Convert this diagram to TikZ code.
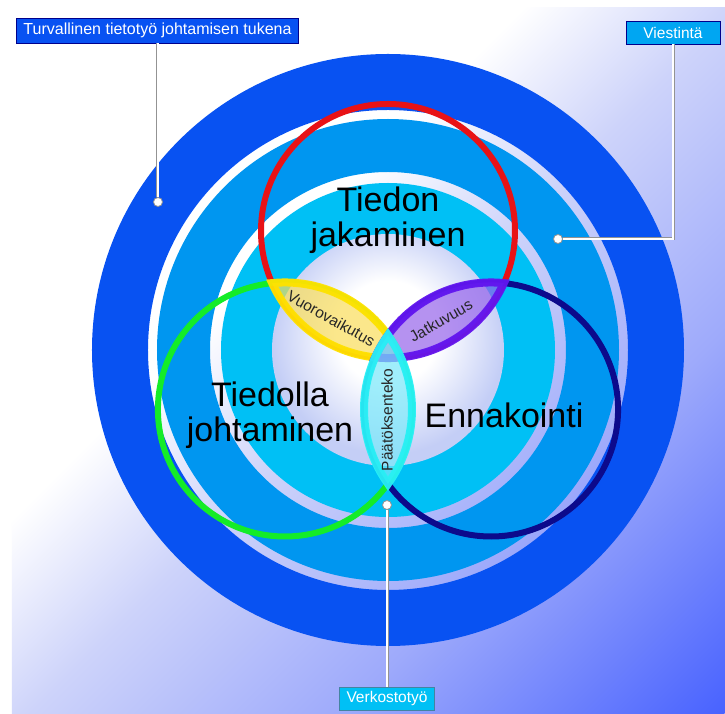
\documentclass[tikz,border=0pt]{standalone}
\usepackage{fontspec}
\setmainfont{Liberation Sans}

\definecolor{ringdark}{RGB}{8,82,242}
\definecolor{ringmid}{RGB}{0,150,240}
\definecolor{ringlight}{RGB}{0,192,245}
\definecolor{bglav}{RGB}{205,211,250}
\definecolor{bgmid}{RGB}{158,170,251}
\definecolor{bgblue}{RGB}{72,98,255}
\definecolor{spherelav}{RGB}{196,206,246}
\definecolor{vennred}{RGB}{232,18,22}
\definecolor{venngreen}{RGB}{20,236,40}
\definecolor{vennnavy}{RGB}{12,10,140}
\definecolor{lensyellow}{RGB}{255,226,0}
\definecolor{yellowfill}{RGB}{250,222,90}
\definecolor{lensviolet}{RGB}{98,22,240}
\definecolor{violetfill}{RGB}{150,100,235}
\definecolor{lenscyan}{RGB}{40,240,246}
\definecolor{cyanfill}{RGB}{120,232,250}

\pgfdeclarehorizontalshading{bgdiag}{100bp}{color(0bp)=(white); color(25bp)=(white); color(43bp)=(white); color(50.5bp)=(bglav); color(61.5bp)=(bgmid); color(75bp)=(bgblue); color(100bp)=(bgblue)}
\pgfdeclareradialshading{spherelight}{\pgfpoint{0bp}{5bp}}{color(0bp)=(white); color(11bp)=(white); color(25bp)=(spherelav); color(50bp)=(spherelav)}

% one petal, pointing down; the others are turned by 120 degrees
\newcommand{\lensshape}{(0,14.8) arc[start angle=35.8, end angle=-35.8, radius=127] arc[start angle=215.8, end angle=144.2, radius=127] -- cycle}

\tikzset{
  venn/.style={line width=6pt},
  lensbase/.style={line width=8pt, fill opacity=0.7, draw opacity=0.95},
  bigtext/.style={font=\fontsize{34}{35}\selectfont, align=center, inner sep=0pt},
  lenstext/.style={font=\fontsize{15.5}{17}\selectfont, text=black!85, inner sep=0pt},
  tagbox/.style={draw=black!45!blue, line width=0.6pt, text=white, font=\fontsize{15.5}{17}\selectfont, minimum width=94pt, minimum height=23pt, inner xsep=7pt, inner ysep=0pt},
  leader/.style={draw=gray!85, double=white, double distance=1.4pt, line width=0.8pt},
  enddot/.style={circle, draw=gray!85, fill=white, line width=0.8pt, minimum size=9pt, inner sep=0pt}
}

\begin{document}
\begin{tikzpicture}[x=1pt, y=1pt]
\useasboundingbox (-388,-364) rectangle (337,350);
\fill[white] (-388,-364) rectangle (337,350) ;

% background, shaded along the diagonal
\begin{scope}
\clip (-376,-364) rectangle (337,342);
\begin{scope}[transform canvas={rotate around={-45:(-376,342)}}]
\shade[shading=bgdiag] (-376,-380) rectangle (627,1062) ;
\end{scope}
\end{scope}

% rings
\fill[ringdark, even odd rule] (0,0) circle[radius=296] (0,0) circle[radius=240] ;
\fill[ringmid, even odd rule] (0,0) circle[radius=231] (0,0) circle[radius=178] ;
\fill[ringlight] (0,0) circle[radius=167] ;
\shade[shading=spherelight] (0,0) circle[radius=116] ;

% venn circles
\draw[venn, vennred] (0,119) circle[radius=127] ;
\draw[venn, venngreen] (-103.06,-59.5) circle[radius=127] ;
\draw[venn, vennnavy] (103.06,-59.5) circle[radius=127] ;

% petals
\filldraw[lensbase, fill=yellowfill, draw=lensyellow, rotate=-120] \lensshape ;
\filldraw[lensbase, fill=violetfill, draw=lensviolet, rotate=120] \lensshape ;
\filldraw[lensbase, fill=cyanfill, draw=lenscyan] \lensshape ;

% texts
\node[bigtext] (tiedon) at (0,129.5) {Tiedon\\jakaminen} ;
\node[bigtext] (tiedolla) at (-118,-65.5) {Tiedolla\\johtaminen} ;
\node[bigtext] (ennakointi) at (116,-65) {Ennakointi} ;
\node[lenstext, rotate=-29] (vuoro) at (151:65) {Vuorovaikutus} ;
\node[lenstext, rotate=30] (jatku) at (29:60.5) {Jatkuvuus} ;
\node[lenstext, rotate=90] (paatos) at (-1,-70) {Päätöksenteko} ;

% tags
\node[tagbox, fill=ringdark, minimum height=25pt, font=\fontsize{16}{18}\selectfont] (turva) at (-230.5,319.5) {Turvallinen tietotyö johtamisen tukena} ;
\node[tagbox, fill=ringmid!85!cyan] (viesti) at (285,317.5) {Viestintä} ;
\node[tagbox, fill=ringlight, draw=black!40!cyan] (verkosto) at (-1,-348.5) {Verkostotyö} ;

\node[enddot] (dotturva) at (-230,148) {} ;
\node[enddot] (dotviesti) at (170,111) {} ;
\node[enddot] (dotverkosto) at (-1,-155) {} ;

\draw[leader] (dotturva |- turva.south) -- (dotturva) ;
\draw[leader] (viesti.south) |- (dotviesti) ;
\draw[leader] (verkosto.north) -- (dotverkosto) ;
\end{tikzpicture}
\end{document}
